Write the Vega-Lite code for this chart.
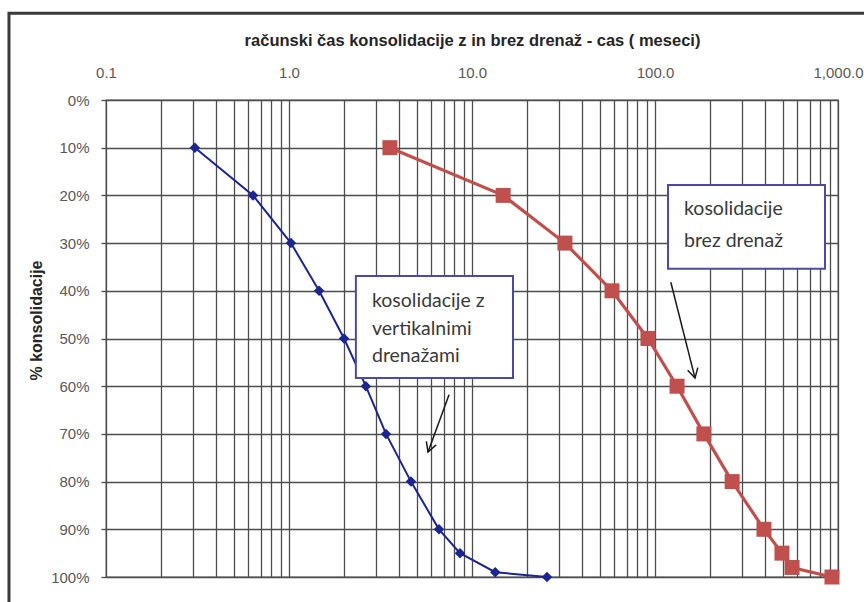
{
  "$schema": "https://vega.github.io/schema/vega-lite/v6.json",
  "width": 732,
  "height": 477,
  "autosize": "none",
  "padding": {"left": 106, "top": 100, "right": 26, "bottom": 25},
  "background": "white",
  "config": {
    "font": "Liberation Sans",
    "view": {"stroke": "#555555", "strokeWidth": 1.3}
  },
  "datasets": {
    "series": [
      {"serija": "z vertikalnimi drenažami", "cas": 0.306, "konsolidacija": 0.10},
      {"serija": "z vertikalnimi drenažami", "cas": 0.636, "konsolidacija": 0.20},
      {"serija": "z vertikalnimi drenažami", "cas": 1.025, "konsolidacija": 0.30},
      {"serija": "z vertikalnimi drenažami", "cas": 1.46, "konsolidacija": 0.40},
      {"serija": "z vertikalnimi drenažami", "cas": 2.0, "konsolidacija": 0.50},
      {"serija": "z vertikalnimi drenažami", "cas": 2.63, "konsolidacija": 0.60},
      {"serija": "z vertikalnimi drenažami", "cas": 3.39, "konsolidacija": 0.70},
      {"serija": "z vertikalnimi drenažami", "cas": 4.64, "konsolidacija": 0.80},
      {"serija": "z vertikalnimi drenažami", "cas": 6.6, "konsolidacija": 0.90},
      {"serija": "z vertikalnimi drenažami", "cas": 8.6, "konsolidacija": 0.95},
      {"serija": "z vertikalnimi drenažami", "cas": 13.4, "konsolidacija": 0.99},
      {"serija": "z vertikalnimi drenažami", "cas": 25.7, "konsolidacija": 1.00},
      {"serija": "brez drenaž", "cas": 3.56, "konsolidacija": 0.10},
      {"serija": "brez drenaž", "cas": 14.8, "konsolidacija": 0.20},
      {"serija": "brez drenaž", "cas": 32.2, "konsolidacija": 0.30},
      {"serija": "brez drenaž", "cas": 58.2, "konsolidacija": 0.40},
      {"serija": "brez drenaž", "cas": 91.5, "konsolidacija": 0.50},
      {"serija": "brez drenaž", "cas": 132, "konsolidacija": 0.60},
      {"serija": "brez drenaž", "cas": 185, "konsolidacija": 0.70},
      {"serija": "brez drenaž", "cas": 264, "konsolidacija": 0.80},
      {"serija": "brez drenaž", "cas": 394, "konsolidacija": 0.90},
      {"serija": "brez drenaž", "cas": 494, "konsolidacija": 0.95},
      {"serija": "brez drenaž", "cas": 561, "konsolidacija": 0.98},
      {"serija": "brez drenaž", "cas": 927, "konsolidacija": 1.00}
    ]
  },
  "layer": [
    {
      "data": {"name": "series"},
      "mark": {"type": "line"},
      "encoding": {
        "x": {
          "field": "cas",
          "type": "quantitative",
          "scale": {"type": "log", "domain": [0.1, 1000], "nice": false},
          "axis": {
            "orient": "top",
            "values": [0.1, 0.2, 0.3, 0.4, 0.5, 0.6, 0.7, 0.8, 0.9, 1, 2, 3, 4, 5, 6, 7, 8, 9, 10, 20, 30, 40, 50, 60, 70, 80, 90, 100, 200, 300, 400, 500, 600, 700, 800, 900, 1000],
            "labelExpr": "indexof([0.1, 1, 10, 100, 1000], datum.value) >= 0 ? format(datum.value, ',.1f') : ''",
            "labelOverlap": false,
            "labelFlush": false,
            "labelFontSize": 15,
            "labelColor": "#595959",
            "labelPadding": 20,
            "ticks": false,
            "domain": false,
            "grid": true,
            "gridColor": "#4d4d4d",
            "gridWidth": 1.3,
            "title": "računski čas konsolidacije z in brez drenaž  - cas ( meseci)",
            "titleFontSize": 16.5,
            "titleFontWeight": "bold",
            "titleColor": "#262626",
            "titlePadding": 17
          }
        },
        "y": {
          "field": "konsolidacija",
          "type": "quantitative",
          "scale": {"domain": [0, 1], "reverse": true, "nice": false, "zero": false},
          "axis": {
            "values": [0, 0.1, 0.2, 0.3, 0.4, 0.5, 0.6, 0.7, 0.8, 0.9, 1],
            "format": ".0%",
            "labelFontSize": 15,
            "labelColor": "#595959",
            "labelPadding": 12,
            "ticks": true,
            "tickSize": 5,
            "tickColor": "#4d4d4d",
            "tickWidth": 1.3,
            "domain": false,
            "grid": true,
            "gridColor": "#4d4d4d",
            "gridWidth": 1.3,
            "title": "% konsolidacije",
            "titleFontSize": 16,
            "titleFontWeight": "bold",
            "titleColor": "#262626",
            "titlePadding": 6,
            "titleY": 220
          }
        },
        "color": {"field": "serija", "type": "nominal", "scale": {"domain": ["z vertikalnimi drenažami", "brez drenaž"], "range": ["#1c2590", "#c0504d"]}, "legend": null},
        "strokeWidth": {"field": "serija", "type": "nominal", "scale": {"domain": ["z vertikalnimi drenažami", "brez drenaž"], "range": [2, 3.2]}, "legend": null}
      }
    },
    {
      "data": {"name": "series"},
      "mark": {"type": "point", "filled": true, "opacity": 1},
      "encoding": {
        "x": {"field": "cas", "type": "quantitative"},
        "y": {"field": "konsolidacija", "type": "quantitative"},
        "color": {"field": "serija", "type": "nominal", "legend": null},
        "shape": {"field": "serija", "type": "nominal", "scale": {"domain": ["z vertikalnimi drenažami", "brez drenaž"], "range": ["diamond", "square"]}, "legend": null},
        "size": {"field": "serija", "type": "nominal", "scale": {"domain": ["z vertikalnimi drenažami", "brez drenaž"], "range": [110, 225]}, "legend": null}
      }
    },
    {
      "data": {"values": [{}]},
      "mark": {"type": "rect", "fill": null, "fillOpacity": 0, "stroke": "#3a3a3a", "strokeWidth": 3, "clip": false},
      "encoding": {
        "x": {"datum": 0.0295, "type": "quantitative"},
        "x2": {"datum": 30000},
        "y": {"datum": -0.182, "type": "quantitative"},
        "y2": {"datum": 1.2}
      }
    },
    {
      "data": {"values": [{}]},
      "mark": {"type": "rect", "fill": "white", "stroke": "#4b4ba6", "strokeWidth": 2},
      "encoding": {
        "x": {"datum": 2.32, "type": "quantitative"},
        "x2": {"datum": 16.75},
        "y": {"datum": 0.369, "type": "quantitative"},
        "y2": {"datum": 0.583}
      }
    },
    {
      "data": {"values": [{}]},
      "mark": {"type": "text", "text": ["kosolidacije z", "vertikalnimi", "drenažami"], "align": "left", "baseline": "alphabetic", "font": "Lato", "fontSize": 19.5, "lineHeight": 27.5, "color": "#3a3a3a"},
      "encoding": {
        "x": {"datum": 2.84, "type": "quantitative"},
        "y": {"datum": 0.434, "type": "quantitative"}
      }
    },
    {
      "data": {"values": [{}]},
      "mark": {"type": "rect", "fill": "white", "stroke": "#4b4ba6", "strokeWidth": 2},
      "encoding": {
        "x": {"datum": 117.8, "type": "quantitative"},
        "x2": {"datum": 849},
        "y": {"datum": 0.178, "type": "quantitative"},
        "y2": {"datum": 0.354}
      }
    },
    {
      "data": {"values": [{}]},
      "mark": {"type": "text", "text": ["kosolidacije", "brez drenaž"], "align": "left", "baseline": "alphabetic", "font": "Lato", "fontSize": 19.5, "lineHeight": 32, "color": "#3a3a3a"},
      "encoding": {
        "x": {"datum": 144, "type": "quantitative"},
        "y": {"datum": 0.241, "type": "quantitative"}
      }
    },
    {
      "data": {"values": [{}]},
      "mark": {"type": "rule", "color": "#1a1a1a", "strokeWidth": 1.5},
      "encoding": {
        "x": {"datum": 7.49, "type": "quantitative"},
        "x2": {"datum": 5.75},
        "y": {"datum": 0.618, "type": "quantitative"},
        "y2": {"datum": 0.738}
      }
    },
    {
      "data": {"values": [{}]},
      "mark": {"type": "point", "shape": "M -0.55 -1 L 0 0 L 0.55 -1", "filled": false, "stroke": "#1a1a1a", "strokeWidth": 1.5, "size": 360, "angle": 20, "opacity": 1},
      "encoding": {
        "x": {"datum": 5.75, "type": "quantitative"},
        "y": {"datum": 0.738, "type": "quantitative"}
      }
    },
    {
      "data": {"values": [{}]},
      "mark": {"type": "rule", "color": "#1a1a1a", "strokeWidth": 1.5},
      "encoding": {
        "x": {"datum": 122, "type": "quantitative"},
        "x2": {"datum": 165.5},
        "y": {"datum": 0.382, "type": "quantitative"},
        "y2": {"datum": 0.583}
      }
    },
    {
      "data": {"values": [{}]},
      "mark": {"type": "point", "shape": "M -0.55 -1 L 0 0 L 0.55 -1", "filled": false, "stroke": "#1a1a1a", "strokeWidth": 1.5, "size": 360, "angle": 346, "opacity": 1},
      "encoding": {
        "x": {"datum": 165.5, "type": "quantitative"},
        "y": {"datum": 0.583, "type": "quantitative"}
      }
    }
  ]
}
